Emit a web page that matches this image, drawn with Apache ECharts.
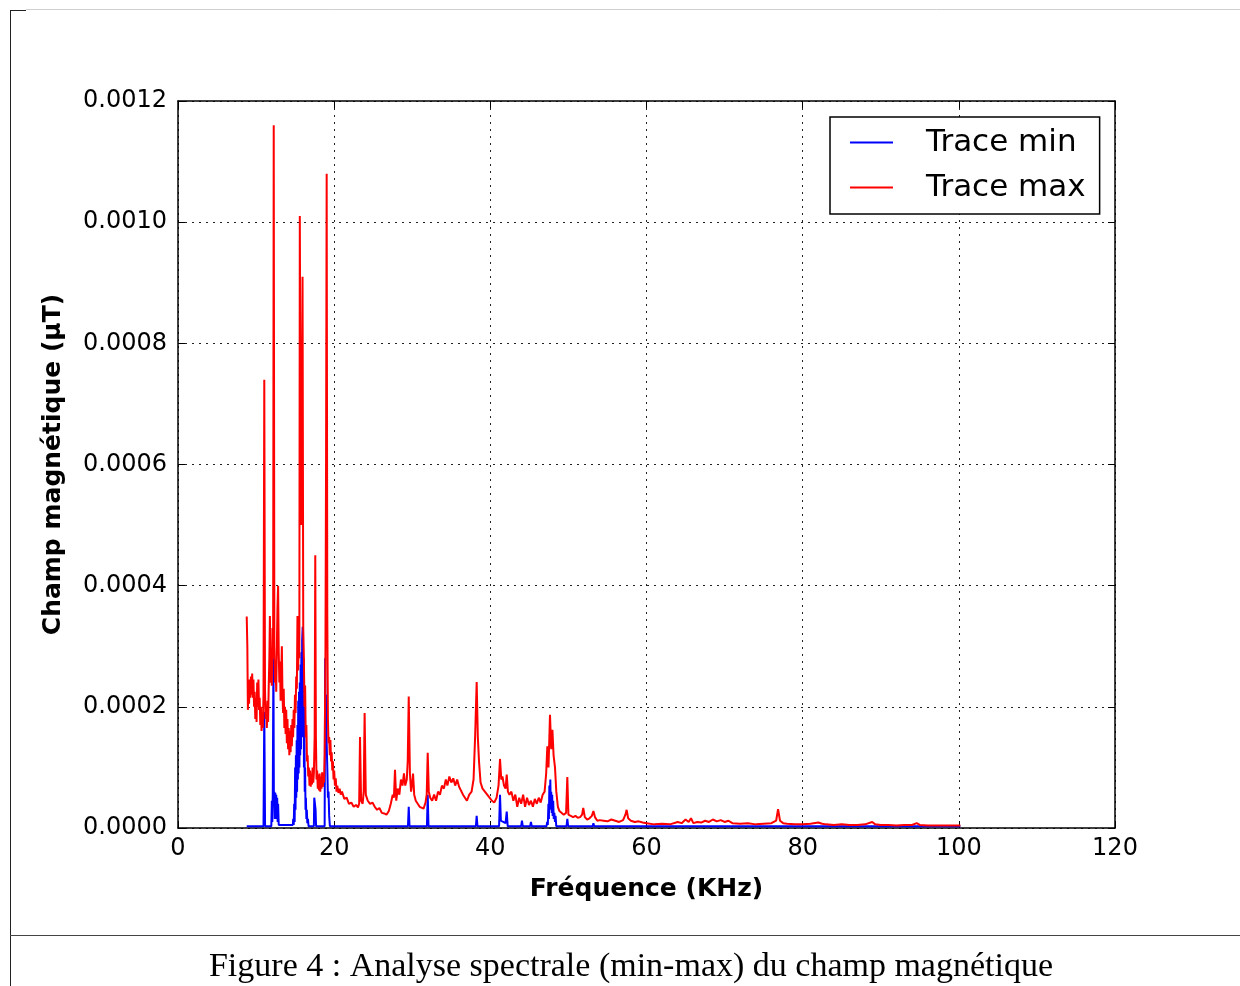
<!DOCTYPE html>
<html>
<head>
<meta charset="utf-8">
<script src="https://cdn.jsdelivr.net/npm/echarts@6/dist/echarts.min.js"></script>
<style>
html,body{margin:0;padding:0;background:#fff;}
#chart{width:1240px;height:986px;}
</style>
</head>
<body>
<div id="chart"></div>
<script>
// Trace max (red): frequency (kHz) and field (µT)
const maxFreq = [8.80,8.88,8.95,9.02,9.10,9.18,9.26,9.34,9.42,9.50,9.58,9.66,9.74,9.82,9.90,9.98,10.06,10.14,10.22,10.30,10.38,10.46,10.54,10.62,10.70,10.78,10.86,10.95,11.05,11.14,11.22,11.30,11.38,11.46,11.54,11.62,11.70,11.77,11.85,11.93,12.01,12.10,12.18,12.26,12.34,12.42,12.50,12.58,12.66,12.74,12.82,12.90,12.98,13.06,13.14,13.22,13.30,13.38,13.46,13.54,13.62,13.70,13.78,13.86,13.94,14.02,14.10,14.18,14.26,14.34,14.42,14.50,14.58,14.66,14.74,14.82,14.90,14.98,15.06,15.14,15.22,15.30,15.38,15.46,15.54,15.60,15.68,15.76,15.84,15.95,16.04,16.12,16.20,16.28,16.36,16.44,16.52,16.60,16.68,16.76,16.84,16.92,17.00,17.08,17.16,17.24,17.32,17.40,17.50,17.58,17.66,17.74,17.82,17.90,17.98,18.06,18.14,18.22,18.30,18.38,18.46,18.54,18.62,18.70,18.78,18.88,18.96,19.04,19.12,19.20,19.28,19.36,19.44,19.52,19.60,19.68,19.76,19.84,19.92,20.00,20.10,20.20,20.30,20.40,20.55,20.70,20.85,21.00,21.30,21.60,21.90,22.20,22.50,22.80,23.05,23.20,23.31,23.45,23.65,23.78,23.90,24.05,24.30,24.60,24.90,25.20,25.50,25.80,26.10,26.40,26.70,27.00,27.25,27.50,27.65,27.79,27.95,28.15,28.35,28.55,28.75,28.94,29.10,29.30,29.42,29.55,29.70,29.85,30.00,30.10,30.25,30.45,30.70,30.95,31.20,31.45,31.70,31.85,31.98,32.12,32.30,32.55,32.80,33.05,33.30,33.55,33.80,34.05,34.30,34.50,34.75,35.00,35.25,35.50,35.75,36.00,36.25,36.50,36.75,37.00,37.30,37.60,37.85,38.05,38.25,38.40,38.55,38.75,39.00,39.30,39.60,39.90,40.20,40.50,40.80,41.05,41.24,41.40,41.55,41.75,41.95,42.10,42.25,42.45,42.70,42.95,43.20,43.45,43.70,43.95,44.20,44.45,44.70,44.95,45.20,45.45,45.70,45.95,46.20,46.45,46.70,46.95,47.15,47.30,47.45,47.64,47.80,47.95,48.10,48.28,48.45,48.65,48.85,49.10,49.40,49.70,49.86,50.00,50.30,50.60,50.90,51.20,51.50,51.75,51.90,52.10,52.40,52.70,53.00,53.20,53.40,53.70,54.00,54.50,55.00,55.50,56.00,56.50,57.00,57.30,57.46,57.65,58.00,58.50,59.00,59.50,60.00,61.00,62.00,63.00,64.00,64.50,65.00,65.40,65.70,66.00,66.50,67.00,67.50,68.00,68.50,69.00,69.50,70.00,70.50,71.00,72.00,73.00,74.00,75.00,76.00,76.60,76.85,77.10,77.50,78.00,79.00,80.00,81.00,82.00,82.50,83.00,84.00,85.00,86.00,87.00,88.00,88.90,89.30,90.00,91.00,92.00,93.00,94.00,94.60,95.00,96.00,97.00,98.00,99.00,100.20];
const maxVal = [0.000349,0.000300,0.000195,0.000235,0.000205,0.000245,0.000215,0.000250,0.000220,0.000255,0.000215,0.000245,0.000200,0.000225,0.000180,0.000215,0.000175,0.000240,0.000200,0.000245,0.000195,0.000215,0.000170,0.000200,0.000160,0.000185,0.000165,0.000220,0.000740,0.000230,0.000180,0.000200,0.000165,0.000210,0.000175,0.000235,0.000280,0.000350,0.000240,0.000275,0.000235,0.000330,0.000280,0.001160,0.000300,0.000240,0.000270,0.000225,0.000300,0.000365,0.000400,0.000290,0.000240,0.000275,0.000210,0.000250,0.000300,0.000220,0.000190,0.000230,0.000165,0.000200,0.000155,0.000195,0.000140,0.000180,0.000130,0.000165,0.000120,0.000160,0.000125,0.000170,0.000135,0.000180,0.000150,0.000195,0.000165,0.000220,0.000190,0.000250,0.000230,0.000350,0.000260,0.000300,0.000280,0.001010,0.000700,0.000500,0.000620,0.000910,0.000330,0.000280,0.000200,0.000235,0.000150,0.000170,0.000110,0.000120,0.000085,0.000100,0.000070,0.000095,0.000068,0.000090,0.000072,0.000100,0.000075,0.000090,0.000150,0.000450,0.000150,0.000080,0.000095,0.000065,0.000088,0.000062,0.000090,0.000060,0.000085,0.000065,0.000092,0.000068,0.000080,0.000075,0.000120,0.000280,0.000600,0.001080,0.000350,0.000180,0.000140,0.000150,0.000120,0.000145,0.000110,0.000125,0.000095,0.000110,0.000080,0.000095,0.000070,0.000082,0.000060,0.000070,0.000058,0.000065,0.000055,0.000060,0.000048,0.000050,0.000040,0.000042,0.000035,0.000038,0.000034,0.000040,0.000150,0.000045,0.000040,0.000060,0.000190,0.000055,0.000045,0.000040,0.000042,0.000035,0.000030,0.000033,0.000025,0.000024,0.000022,0.000028,0.000040,0.000055,0.000050,0.000096,0.000045,0.000065,0.000055,0.000080,0.000070,0.000090,0.000070,0.000080,0.000110,0.000217,0.000090,0.000060,0.000075,0.000090,0.000055,0.000045,0.000040,0.000035,0.000038,0.000032,0.000042,0.000055,0.000124,0.000060,0.000050,0.000045,0.000055,0.000045,0.000060,0.000055,0.000070,0.000065,0.000080,0.000070,0.000085,0.000075,0.000082,0.000070,0.000080,0.000068,0.000070,0.000055,0.000050,0.000045,0.000055,0.000060,0.000080,0.000150,0.000241,0.000150,0.000110,0.000075,0.000065,0.000060,0.000055,0.000050,0.000045,0.000042,0.000050,0.000070,0.000114,0.000080,0.000085,0.000070,0.000065,0.000088,0.000060,0.000055,0.000060,0.000045,0.000055,0.000035,0.000050,0.000040,0.000055,0.000035,0.000050,0.000038,0.000045,0.000035,0.000048,0.000040,0.000050,0.000042,0.000055,0.000060,0.000090,0.000135,0.000100,0.000187,0.000130,0.000162,0.000120,0.000100,0.000060,0.000035,0.000028,0.000025,0.000022,0.000025,0.000084,0.000022,0.000020,0.000018,0.000020,0.000017,0.000018,0.000022,0.000033,0.000018,0.000014,0.000016,0.000020,0.000028,0.000018,0.000012,0.000013,0.000012,0.000011,0.000014,0.000012,0.000010,0.000013,0.000022,0.000030,0.000016,0.000012,0.000010,0.000011,0.000009,0.000008,0.000006,0.000007,0.000006,0.000010,0.000008,0.000014,0.000010,0.000016,0.000008,0.000010,0.000009,0.000012,0.000010,0.000014,0.000011,0.000013,0.000010,0.000012,0.000008,0.000007,0.000008,0.000006,0.000007,0.000008,0.000012,0.000031,0.000012,0.000008,0.000007,0.000006,0.000006,0.000007,0.000009,0.000007,0.000006,0.000005,0.000006,0.000005,0.000005,0.000006,0.000010,0.000006,0.000005,0.000005,0.000004,0.000005,0.000005,0.000008,0.000005,0.000004,0.000004,0.000004,0.000004,0.000004];

// Trace min (blue): frequency (kHz) and field (µT)
const minFreq = [8.80,10.95,11.05,11.15,11.95,12.02,12.08,12.14,12.22,12.28,12.34,12.40,12.46,12.52,12.58,12.64,12.70,12.76,12.82,12.90,12.96,14.70,14.76,14.82,14.88,14.94,15.00,15.05,15.10,15.15,15.20,15.25,15.30,15.35,15.40,15.45,15.50,15.55,15.60,15.65,15.70,15.75,15.80,15.85,15.90,15.97,16.03,16.08,16.13,16.18,16.23,16.28,16.33,16.38,16.44,16.50,16.56,16.64,16.72,17.40,17.45,17.55,17.62,17.68,18.78,18.85,18.92,18.98,19.04,19.12,19.20,19.28,19.36,19.45,29.45,29.55,29.65,31.88,31.98,32.08,38.15,38.25,38.35,41.12,41.24,41.35,41.95,42.10,42.22,43.95,44.05,44.15,45.10,45.20,45.30,47.20,47.28,47.36,47.44,47.50,47.56,47.62,47.68,47.74,47.80,47.86,47.92,47.98,48.05,48.12,48.20,48.28,48.36,48.44,49.76,49.86,49.96,53.10,53.20,53.30,100.20];
const minVal = [0.000003,0.000003,0.000192,0.000003,0.000003,0.000045,0.000010,0.000060,0.000280,0.000040,0.000060,0.000015,0.000058,0.000020,0.000055,0.000015,0.000050,0.000010,0.000040,0.000005,0.000003,0.000005,0.000015,0.000005,0.000040,0.000010,0.000100,0.000030,0.000120,0.000050,0.000145,0.000060,0.000170,0.000080,0.000210,0.000090,0.000225,0.000100,0.000240,0.000120,0.000270,0.000130,0.000290,0.000150,0.000310,0.000332,0.000150,0.000280,0.000100,0.000200,0.000060,0.000100,0.000030,0.000050,0.000015,0.000030,0.000008,0.000015,0.000003,0.000003,0.000050,0.000050,0.000030,0.000003,0.000003,0.000280,0.000140,0.000220,0.000140,0.000100,0.000050,0.000060,0.000020,0.000003,0.000003,0.000035,0.000003,0.000003,0.000055,0.000003,0.000003,0.000020,0.000003,0.000003,0.000055,0.000012,0.000008,0.000027,0.000003,0.000003,0.000012,0.000003,0.000003,0.000010,0.000003,0.000003,0.000010,0.000005,0.000040,0.000015,0.000070,0.000030,0.000080,0.000035,0.000060,0.000025,0.000055,0.000020,0.000045,0.000015,0.000025,0.000010,0.000020,0.000003,0.000003,0.000015,0.000003,0.000003,0.000008,0.000003,0.000003];

const seriesNames = ['Trace min', 'Trace max'];
const xAxisTitle = 'Fréquence (KHz)';
const yAxisTitle = 'Champ magnétique (µT)';
const caption = 'Figure 4 : Analyse spectrale (min-max) du champ magnétique';

const zip = (a, b) => a.map((v, i) => [v, b[i]]);

const chart = echarts.init(document.getElementById('chart'), null, {renderer: 'canvas'});
const FONT = 'DejaVu Sans';
const gridSplit = {show: true, lineStyle: {color: '#222', type: [2, 5], width: 1}};

chart.setOption({
  animation: false,
  backgroundColor: '#fff',
  grid: {left: 178, top: 101, right: 125, bottom: 158, containLabel: false},
  legend: {
    orient: 'vertical',
    left: 830, top: 117,
    padding: [10, 14, 11, 20],
    itemGap: 14,
    itemWidth: 43, itemHeight: 2,
    icon: 'rect',
    borderColor: '#000', borderWidth: 1.5, borderRadius: 0,
    backgroundColor: '#fff',
    textStyle: {fontFamily: FONT, fontSize: 31, color: '#000', lineHeight: 30, padding: [0, 0, 0, 28]},
    data: seriesNames
  },
  xAxis: [{
    type: 'value', min: 0, max: 120, interval: 20,
    name: xAxisTitle, nameLocation: 'middle', nameGap: 49,
    nameTextStyle: {fontFamily: FONT, fontSize: 25, fontWeight: 'bold', color: '#000'},
    axisLine: {show: true, onZero: false, lineStyle: {color: '#000', width: 1.5}},
    axisTick: {show: true, inside: true, length: 7, lineStyle: {color: '#000', width: 1}},
    axisLabel: {fontFamily: FONT, fontSize: 24, color: '#000', margin: 9},
    splitLine: gridSplit
  }, {
    type: 'value', position: 'top', min: 0, max: 120, interval: 20,
    axisLine: {show: true, onZero: false, lineStyle: {color: '#000', width: 1.5}},
    axisTick: {show: true, inside: true, length: 7, lineStyle: {color: '#000', width: 1}},
    axisLabel: {show: false}, splitLine: {show: false}
  }],
  yAxis: [{
    type: 'value', min: 0, max: 0.0012, interval: 0.0002,
    name: yAxisTitle, nameLocation: 'middle', nameGap: 112,
    nameTextStyle: {fontFamily: FONT, fontSize: 25, fontWeight: 'bold', color: '#000'},
    axisLine: {show: true, onZero: false, lineStyle: {color: '#000', width: 1.5}},
    axisTick: {show: true, inside: true, length: 7, lineStyle: {color: '#000', width: 1}},
    axisLabel: {fontFamily: FONT, fontSize: 24, color: '#000', margin: 11,
      formatter: v => v.toFixed(4)},
    splitLine: gridSplit
  }, {
    type: 'value', position: 'right', min: 0, max: 0.0012, interval: 0.0002,
    axisLine: {show: true, onZero: false, lineStyle: {color: '#000', width: 1.5}},
    axisTick: {show: true, inside: true, length: 7, lineStyle: {color: '#000', width: 1}},
    axisLabel: {show: false}, splitLine: {show: false}
  }],
  series: [{
    name: seriesNames[0], type: 'line', data: zip(minFreq, minVal),
    showSymbol: false, symbol: 'none', sampling: null,
    lineStyle: {color: '#0000ff', width: 2}, itemStyle: {color: '#0000ff'}
  }, {
    name: seriesNames[1], type: 'line', data: zip(maxFreq, maxVal),
    showSymbol: false, symbol: 'none', sampling: null,
    lineStyle: {color: '#ff0000', width: 2}, itemStyle: {color: '#ff0000'}
  }],
  graphic: [
    {type: 'line', silent: true, shape: {x1: 10.5, y1: 10, x2: 10.5, y2: 986}, style: {stroke: '#222', lineWidth: 1}},
    {type: 'line', silent: true, shape: {x1: 10, y1: 10.5, x2: 26, y2: 10.5}, style: {stroke: '#222', lineWidth: 1}},
    {type: 'line', silent: true, shape: {x1: 26, y1: 9.5, x2: 1240, y2: 9.5}, style: {stroke: '#cfcfcf', lineWidth: 1}},
    {type: 'line', silent: true, shape: {x1: 10, y1: 935.5, x2: 1240, y2: 935.5}, style: {stroke: '#444', lineWidth: 1.2}},
    {type: 'text', silent: true, x: 631, y: 967,
      style: {text: caption, fontFamily: 'Liberation Serif', fontSize: 34, fill: '#000', textAlign: 'center', textVerticalAlign: 'middle'}}
  ]
});
</script>
</body>
</html>
